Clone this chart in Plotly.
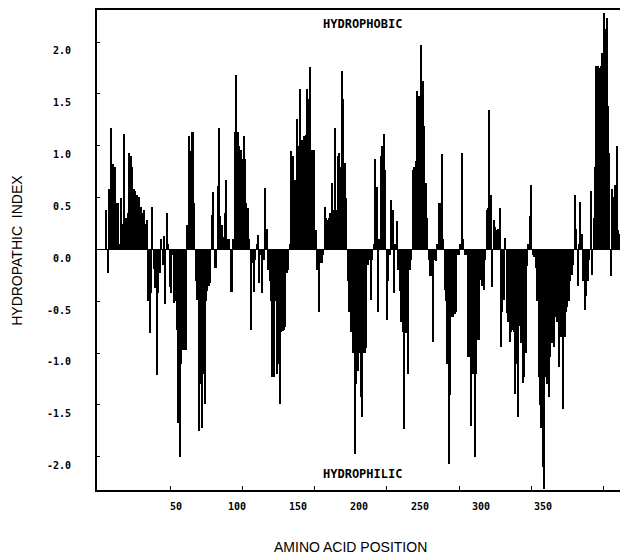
import plotly.graph_objects as go

# =========================
# Data
# =========================
first_position = 6
hydropathy = [
    0.38, -0.23, 0.58, 1.17, 0.58, 0.82, 0.80, 0.45, 0.45, 0.05,
    0.50, 0.25, 1.11, 0.25, 0.30, 0.35, 0.93, 0.90, 0.80, 0.58,
    0.56, 0.53, 0.46, 0.51, 0.41, 0.35, 0.38, 0.25, 0.28, -0.50,
    -0.81, -0.42, 0.41, -0.19, -0.37, -1.21, -0.42, -0.23, 0.10, -0.15,
    0.13, -0.53, 0.35, 0.05, -0.36, -0.42, -0.05, -0.52, -0.50, -0.78,
    -1.67, -2.00, -1.10, -0.97, -0.97, -0.97, 0.24, 1.09, 0.95, 1.13,
    1.13, 0.45, -0.30, -0.49, -1.75, -1.30, -1.72, -1.20, -1.49, -0.50,
    -0.40, -0.35, -0.32, 0.33, 0.55, -0.18, -0.18, 0.61, 1.17, 0.32,
    0.24, 0.12, 0.35, 0.67, 0.10, 0.10, -0.41, -0.41, 0.10, 1.13,
    1.68, 1.13, 1.00, 0.96, 0.87, 1.09, 0.87, 0.45, 0.40, 0.10,
    -0.78, -0.13, -0.41, -0.10, 0.05, 0.14, -0.32, -0.05, -0.42, -0.10,
    0.59, 0.20, -0.20, -0.30, -0.50, -1.23, -1.23, -0.50, -1.20, -1.10,
    -1.49, -0.80, -0.79, -0.78, -0.75, -0.23, -0.20, 0.05, 0.95, 0.90,
    0.67, 0.67, 1.26, 1.00, 1.55, 1.06, 1.06, 1.09, 1.10, 1.55,
    1.45, 1.76, 0.96, 0.19, 0.96, 0.19, -0.20, -0.60, -0.13, -0.13,
    -0.05, 0.41, 0.30, 0.28, 0.30, 0.35, 0.64, 0.38, 1.17, 0.38,
    0.90, 0.93, 0.80, 1.72, 1.45, 0.83, 0.50, -0.30, -0.60, -0.80,
    -0.40, -1.00, -1.97, -1.30, -1.17, -1.00, -1.42, -1.62, -1.00, -1.00,
    -0.95, -0.15, -0.10, -0.49, -0.10, 0.05, 0.87, 0.60, -0.60, 0.10,
    0.90, 1.00, 1.11, 0.77, -0.68, -0.30, -0.05, 0.48, 0.38, -0.42,
    0.05, 0.27, -0.20, -0.40, -0.70, -0.80, -1.73, -0.81, -0.81, -1.20,
    -0.20, -0.10, 0.77, 0.80, 0.85, 1.53, 1.48, 1.42, 1.97, 1.63,
    1.19, 0.64, 0.30, -0.10, -0.26, -0.26, -0.89, -0.10, -0.11, 0.05,
    0.45, 0.45, 0.92, 0.10, -0.39, -0.50, -1.10, -2.07, -1.40, -0.65,
    -0.65, -0.62, -0.60, -0.05, -0.05, 0.05, 0.93, 0.10, -0.05, -0.05,
    -1.04, -1.04, -1.70, -1.05, -1.20, -2.00, -1.20, -0.87, -0.87, -0.29,
    -0.35, -0.39, -0.10, 0.38, 0.40, 1.35, 0.53, -0.36, 0.28, 0.22,
    0.19, 0.20, 0.40, -0.94, -0.60, -0.49, 0.11, -0.61, -0.70, -0.89,
    -0.80, -0.78, -0.80, -1.39, -1.10, -1.62, -0.74, -0.90, -1.29, -1.23,
    -1.00, -0.16, 0.05, 0.32, 0.62, -0.05, -0.07, -0.18, -0.50, -1.23,
    -1.50, -1.72, -2.10, -2.31, -1.23, -1.30, -1.42, -1.04, -0.90, -0.75,
    -0.94, -0.65, -0.70, -1.13, -0.84, -0.84, -1.54, -0.84, -0.60, -0.55,
    -0.50, -0.30, -0.25, -0.15, 0.53, 0.20, -0.35, 0.05, 0.46, 0.15,
    -0.30, -0.58, -0.45, -0.30, -0.10, 0.56, -0.25, 0.30, 0.80, 1.77,
    1.77, 1.75, 1.77, 1.90, 2.28, 2.13, 2.23, 1.38, 0.93, -0.26,
    0.58, 0.51, 0.62, 1.00, 0.19, 0.15, -0.28, 0.75, 0.10, -0.10, -1.10,
]
positions = list(range(first_position, first_position + len(hydropathy)))

y_tick_values = [2.0, 1.5, 1.0, 0.5, 0.0, -0.5, -1.0, -1.5, -2.0]
y_tick_labels = ["2.0", "1.5", "1.0", "0.5", "0.0", "-0.5", "-1.0", "-1.5", "-2.0"]
x_tick_values = [50, 100, 150, 200, 250, 300, 350]
# the printed labels sit on a different pitch than the tick marks
x_label_values = [54.1, 96.3, 138.4, 180.6, 222.8, 265.0, 307.8]
x_tick_labels = ["50", "100", "150", "200", "250", "300", "350"]

# =========================
# Figure
# =========================
fig = go.Figure()

fig.add_trace(go.Bar(
    x=positions,
    y=hydropathy,
    width=1.0,
    marker={"color": "black", "line": {"width": 0}},
    hovertemplate="%{x}: %{y}<extra></extra>",
))

mono = "DejaVu Sans Mono"

annotations = []
for v, t in zip(y_tick_values, y_tick_labels):
    annotations.append(dict(
        x=-0.046, xref="paper", y=v - 0.085, yref="y",
        text="<b>" + t + "</b>", showarrow=False,
        xanchor="right", yanchor="middle",
        font=dict(family=mono, size=10, color="black"),
    ))
for v, t in zip(x_label_values, x_tick_labels):
    annotations.append(dict(
        x=v, xref="x", y=-0.035, yref="paper",
        text="<b>" + t + "</b>", showarrow=False,
        xanchor="center", yanchor="middle",
        font=dict(family=mono, size=10, color="black"),
    ))

annotations += [
    dict(x=0.5, xref="paper", y=0.971, yref="paper", text="<b>HYDROPHOBIC</b>",
         showarrow=False, xanchor="center", yanchor="middle",
         font=dict(family=mono, size=12, color="black")),
    dict(x=0.5, xref="paper", y=0.033, yref="paper", text="<b>HYDROPHILIC</b>",
         showarrow=False, xanchor="center", yanchor="middle",
         font=dict(family=mono, size=12, color="black")),
    dict(x=-0.151, xref="paper", y=0.5, yref="paper", text="HYDROPATHIC  INDEX",
         textangle=-90, showarrow=False, xanchor="center", yanchor="middle",
         font=dict(family="Liberation Sans", size=14, color="black")),
    dict(x=0.478, xref="paper", y=-0.119, yref="paper", text="AMINO ACID POSITION",
         showarrow=False, xanchor="center", yanchor="middle",
         font=dict(family="Liberation Sans", size=14, color="black")),
]

# page body keeps an 8px margin, so the figure is shifted by that much
fig.update_layout(
    width=620,
    height=550,
    margin=dict(l=89, r=0, t=2, b=68),
    paper_bgcolor="white",
    plot_bgcolor="white",
    showlegend=False,
    bargap=0,
    annotations=annotations,
)

fig.update_xaxes(
    range=[-0.5, 366.7],
    tickvals=x_tick_values,
    showticklabels=False,
    ticks="inside", ticklen=4, tickcolor="black",
    showgrid=False, zeroline=False,
    showline=True, linecolor="black", linewidth=2, mirror=True,
)
fig.update_yaxes(
    range=[-2.32, 2.31],
    tickvals=y_tick_values,
    showticklabels=False,
    ticks="inside", ticklen=3, tickcolor="black",
    showgrid=False,
    zeroline=True, zerolinecolor="black", zerolinewidth=1,
    showline=True, linecolor="black", linewidth=2,
)

fig.write_html("out.html")
